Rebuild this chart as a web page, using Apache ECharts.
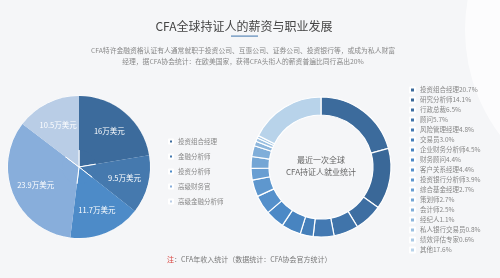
<!DOCTYPE html>
<html>
<head>
<meta charset="utf-8">
<script src="https://cdn.jsdelivr.net/npm/echarts@6/dist/echarts.min.js"></script>
<style>
  html, body { margin: 0; padding: 0; background: #f5f6f8; }
  #main { width: 500px; height: 278px; }
</style>
</head>
<body>
<div id="main"></div>
<script>
// 年收入（万美元）
var salaryNames = ['投资组合经理', '金融分析师', '投资分析师', '高级财务官', '高级金融分析师'];
var salaryValues = [16, 9.5, 11.7, 23.9, 10.5];

// 就业统计（%）
var jobNames = ['投资组合经理', '研究分析师', '行政总裁', '顾问', '风险管理经理', '交易员',
  '企业财务分析师', '财务顾问', '客户关系经理', '投资银行分析师', '综合基金经理', '策划师',
  '会计师', '经纪人', '私人银行交易员', '绩效评估专家', '其他'];
var jobValues = [20.7, 14.1, 6.5, 5.7, 4.8, 3.0, 4.5, 4.4, 4.4, 3.9, 2.7, 2.7, 2.5, 1.1, 0.8, 0.6, 17.6];

var salaryColors = ['#3c6b9c', '#4579ae', '#4d8bc8', '#88aedb', '#b9cde6'];
var jobColors = ['#3a6898', '#3d6ea2', '#4074aa', '#4379b2', '#457fba', '#4884c0', '#4c89c6',
  '#5590cb', '#5e97ce', '#689ed2', '#74a6d5', '#80aed9', '#8db6dc', '#9bc0e1', '#a9c9e5',
  '#b8d3ea', '#dbe5f1'];

var font = '"Noto Sans CJK SC", "Noto Sans", sans-serif';
var chart = echarts.init(document.getElementById('main'));

var salaryData = salaryNames.map(function (n, i) { return { name: n, value: salaryValues[i] }; });

var option = {
  backgroundColor: '#f5f6f8',
  textStyle: { fontFamily: font },
  graphic: [
    { type: 'circle', shape: { cx: 640, cy: 30, r: 175 }, style: { fill: '#ffffff', opacity: 0.7 }, silent: true, z: -1 },
    {
      type: 'text', x: 244, y: 26,
      style: { text: 'CFA全球持证人的薪资与职业发展', fill: '#444', font: '12px ' + font, textAlign: 'center', textVerticalAlign: 'middle' }
    },
    { type: 'rect', shape: { x: 231, y: 35.5, width: 27, height: 1.2 }, style: { fill: '#5b88b8' } },
    {
      type: 'text', x: 243, y: 50,
      style: {
        text: 'CFA特许金融资格认证有人通常就职于投资公司、互惠公司、证券公司、投资银行等，或成为私人财富\n经理，据CFA协会统计：在欧美国家，获得CFA头衔人的薪资普遍比同行高出20%',
        fill: '#888', font: '6.8px ' + font, textAlign: 'center', textVerticalAlign: 'top', lineHeight: 11, y: -5.5
      }
    },
    {
      type: 'text', x: 167, y: 259,
      style: {
        text: '{r|注}：CFA年收入统计（数据统计：CFA协会官方统计）',
        fill: '#777', font: '7px ' + font, textVerticalAlign: 'middle',
        rich: { r: { fill: '#d9403a', font: '7px ' + font } }
      }
    },
    {
      type: 'text', x: 321, y: 166,
      style: {
        text: '最近一次全球\nCFA持证人就业统计', fill: '#666', font: '8px ' + font,
        textAlign: 'center', textVerticalAlign: 'middle', lineHeight: 12
      }
    }
  ],
  legend: [
    {
      orient: 'vertical', left: 163, top: 133,
      data: salaryNames,
      icon: 'rect', itemWidth: 4, itemHeight: 4, itemGap: 8,
      textStyle: { fontSize: 6.5, color: '#888', fontFamily: font, lineHeight: 7 }
    },
    {
      orient: 'vertical', left: 404, top: 81,
      data: jobNames,
      icon: 'rect', itemWidth: 5, itemHeight: 5, itemGap: 2,
      formatter: function (name) {
        return name + jobValues[jobNames.indexOf(name)].toFixed(1) + '%';
      },
      textStyle: { fontSize: 6.5, color: '#888', fontFamily: font, lineHeight: 8 }
    }
  ],
  series: [
    {
      type: 'pie',
      center: [79, 167], radius: [0, 71],
      startAngle: 90, clockwise: true,
      color: salaryColors,
      itemStyle: { borderColor: '#fff', borderWidth: 1 },
      label: { show: false },
      labelLine: { show: false },
      data: salaryData
    },
    {
      // 透明层，只用于把标签放得更靠外
      type: 'pie',
      center: [79, 167], radius: [17, 71],
      startAngle: 90, clockwise: true,
      silent: true,
      color: ['rgba(0,0,0,0)'],
      itemStyle: { borderWidth: 0 },
      label: {
        position: 'inside', color: '#fff', fontSize: 7.5, fontFamily: font,
        formatter: function (p) { return p.value + '万美元'; }
      },
      labelLine: { show: false },
      data: salaryData
    },
    {
      type: 'pie',
      center: [321, 167], radius: [52, 70],
      startAngle: 90, clockwise: true,
      color: jobColors,
      itemStyle: { borderColor: '#fff', borderWidth: 1.2 },
      label: { show: false },
      labelLine: { show: false },
      data: jobNames.map(function (n, i) { return { name: n, value: jobValues[i] }; })
    }
  ]
};

chart.setOption(option);
</script>
</body>
</html>
